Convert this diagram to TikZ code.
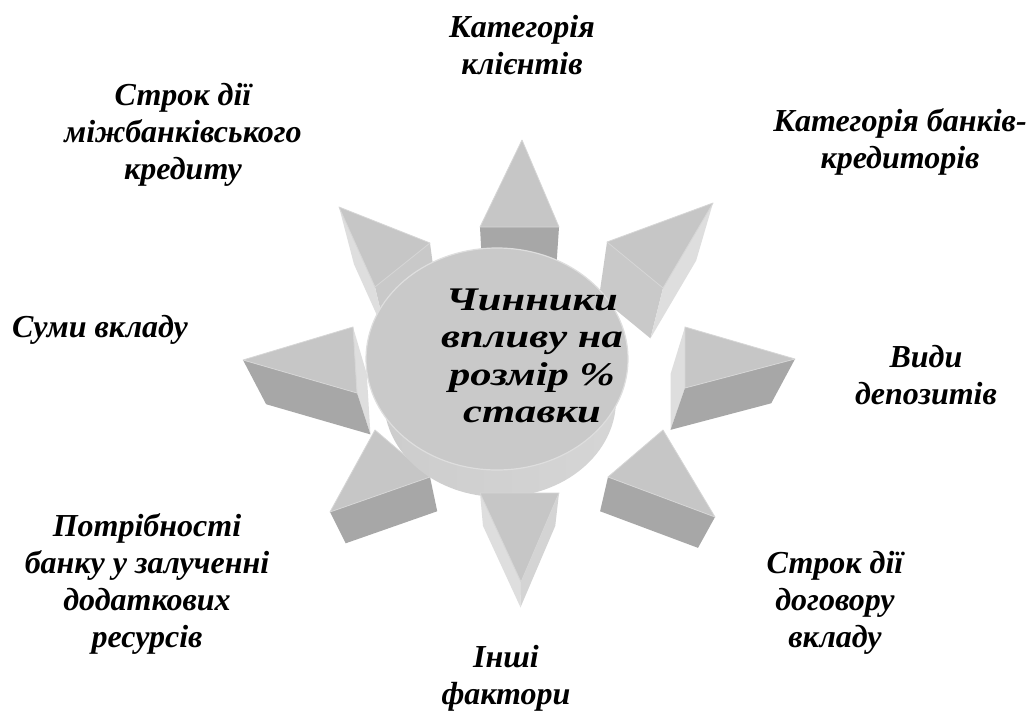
\documentclass[tikz,border=0pt]{standalone}
\usepackage{fontspec}
\setmainfont{Liberation Serif}
\newfontfamily\widefont[FakeStretch=1.29]{Liberation Serif}
\usetikzlibrary{calc}
\definecolor{topgray}{HTML}{C6C6C6}
\definecolor{darkgray}{HTML}{A7A7A7}
\definecolor{midgray}{HTML}{C9C9C9}
\definecolor{lightgray}{HTML}{DEDEDE}
\definecolor{rimgray}{HTML}{D6D6D6}
% depth of every prism, as a fraction of the way to the vanishing point
\newcommand\prismdepth{0.085}
% side face of a prism: front edge #1--#2, receding towards (V)
\newcommand\prismside[3]{\fill[#3] (#1) -- (#2) -- ($(#2)!\prismdepth!(V)$) -- ($(#1)!\prismdepth!(V)$) -- cycle;}
% top face of a prism
\newcommand\prismtop[3]{\filldraw[fill=topgray, draw=rimgray, line width=0.8pt, line join=round] (#1) -- (#2) -- (#3) -- cycle;}
\begin{document}
\begin{tikzpicture}[x=1pt, y=-1pt,
  lbl/.style={font=\fontsize{32}{37}\selectfont\bfseries\itshape, align=center, inner sep=0pt},
  ttl/.style={font=\widefont\fontsize{33}{37.5}\selectfont\bfseries\itshape, align=center, inner sep=0pt}]
\fill[white] (0,0) rectangle (1035,707);
\coordinate (V) at (515,880);

% prism tips (T) and base corners (A, B)
\coordinate (nT) at (522,140); \coordinate (nA) at (480,227); \coordinate (nB) at (559,227);
\coordinate (neT) at (713,203); \coordinate (neA) at (607,242); \coordinate (neB) at (663,288);
\coordinate (eT) at (795,359); \coordinate (eA) at (685,327); \coordinate (eB) at (685,388);
\coordinate (seT) at (715,517); \coordinate (seA) at (663,430); \coordinate (seB) at (608,477);
\coordinate (sT) at (521,582); \coordinate (sA) at (480,493); \coordinate (sB) at (559,493);
\coordinate (swT) at (330,512); \coordinate (swA) at (375,430); \coordinate (swB) at (430,477);
\coordinate (wT) at (243,360); \coordinate (wA) at (353,327); \coordinate (wB) at (357,393);
\coordinate (nwT) at (339,207); \coordinate (nwA) at (430,243); \coordinate (nwB) at (375,287);

% prisms behind the cylinder
\prismside{nA}{nB}{darkgray}
\prismtop{nT}{nA}{nB}
\prismside{neA}{neB}{midgray}
\prismside{neT}{neB}{lightgray}
\prismtop{neT}{neA}{neB}
\prismside{nwA}{nwB}{midgray}
\prismside{nwT}{nwB}{lightgray}
\prismtop{nwT}{nwA}{nwB}
\prismside{eA}{eB}{lightgray}
\prismside{eT}{eB}{darkgray}
\prismtop{eT}{eA}{eB}
\prismside{wA}{wB}{lightgray}
\prismside{wT}{wB}{darkgray}
\prismtop{wT}{wA}{wB}
\prismside{seT}{seB}{darkgray}
\prismtop{seT}{seA}{seB}
\prismside{swT}{swB}{darkgray}
\prismtop{swT}{swA}{swB}

% cylinder: side band, then top face
\coordinate (cyl) at (497,359);
\begin{scope}
  \clip (366,359) -- (384,400) arc[start angle=180, end angle=0, x radius=116, y radius=97] -- (628,359) -- cycle;
  \shade[left color=black!20, middle color=black!42, right color=black!16] (360,330) rectangle (640,510);
\end{scope}
\filldraw[fill=black!21, draw=black!13, line width=1.2pt] (cyl) ellipse[x radius=131, y radius=111];

% prism in front of the cylinder
\prismside{sA}{sT}{lightgray}
\prismside{sT}{sB}{black!17}
\prismtop{sT}{sA}{sB}

\node[ttl] (title) at (532,356) {Чинники\\впливу на\\розмір \%\\ставки};

\node[lbl] (clients) at (522,45) {Категорія\\клієнтів};
\node[lbl] (banks) at (900,142) {Категорія банків-\\кредиторів};
\node[lbl] (deposits) at (926,375) {Види\\депозитів};
\node[lbl] (contract) at (835,603) {Строк дії\\договору\\вкладу};
\node[lbl] (other) at (506,678) {Інші\\фактори};
\node[lbl] (needs) at (147,584) {Потрібності\\банку у залученні\\додаткових\\ресурсів};
\node[lbl] (amount) at (100,330) {Суми вкладу};
\node[lbl] (interbank) at (183,135) {Строк дії\\міжбанківського\\кредиту};
\end{tikzpicture}
\end{document}
